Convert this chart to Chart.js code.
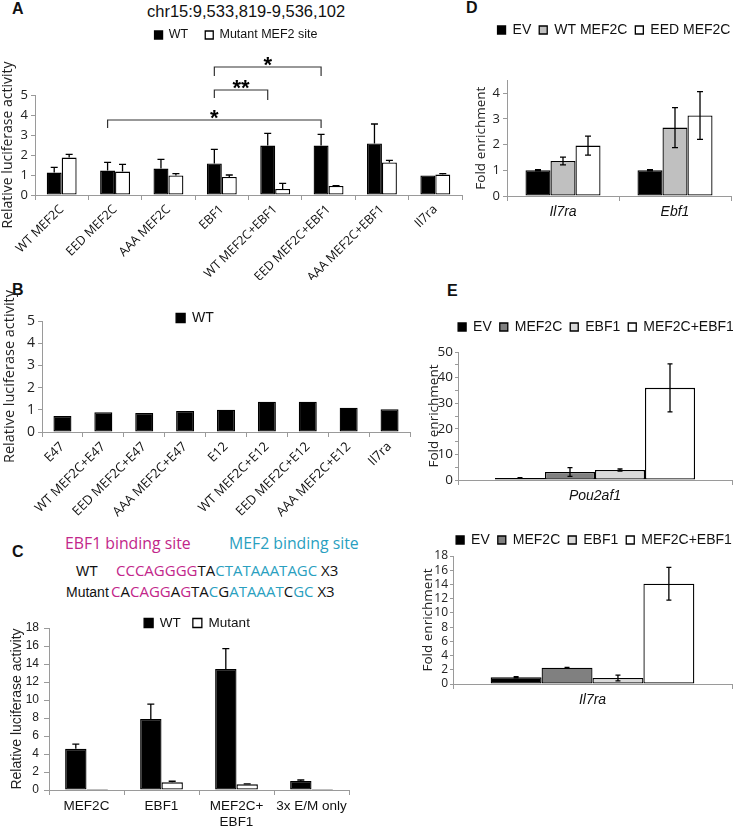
<!DOCTYPE html>
<html>
<head>
<meta charset="utf-8">
<script src="https://cdn.jsdelivr.net/npm/chart.js@4.4.1/dist/chart.umd.min.js"></script>
<style>
  body { margin: 0; background: #fff; width: 733px; height: 827px; position: relative; overflow: hidden; }
  canvas { position: absolute; }
  .txt { position: absolute; white-space: nowrap; line-height: 1; color: #111; }
  .panel { font: bold 16px 'Liberation Sans', Arial, sans-serif; }
  .arial { font-family: 'Liberation Sans', Arial, sans-serif; }
  .seq { font-family: 'Open Sans', sans-serif; font-size: 15px; }
  .m { color: #c2268a; }
  .c { color: #2a9fbf; }
</style>
</head>
<body>
<div class="txt panel" style="left:12px;top:0px">A</div>
<div class="txt panel" style="left:12px;top:281px">B</div>
<div class="txt panel" style="left:12px;top:543px">C</div>
<div class="txt panel" style="left:466px;top:-1px">D</div>
<div class="txt panel" style="left:447px;top:282px">E</div>
<div class="txt arial" style="left:147px;top:3px;font-size:16.5px">chr15:9,533,819-9,536,102</div>

<div class="txt seq m" style="left:65px;top:536px;font-size:15.8px">EBF1 binding site</div>
<div class="txt seq c" style="left:229px;top:536px;font-size:15.8px">MEF2 binding site</div>
<div class="txt arial" style="left:76px;top:564px;font-size:14px">WT</div>
<div class="txt seq" style="left:116px;top:563px"><span class="m">CCCAGGGG</span>TA<span class="c">CTATAAATAGC</span> X3</div>
<div class="txt arial" style="left:66px;top:585px;font-size:14px">Mutant</div>
<div class="txt seq" style="left:111px;top:584px"><span class="m">C</span>A<span class="m">CAGG</span>A<span class="m">G</span>TA<span class="c">C</span>G<span class="c">ATAAAT</span>C<span class="c">GC</span> X3</div>

<canvas id="chartA" width="470" height="280" style="left:0;top:0"></canvas>
<canvas id="chartB" width="420" height="280" style="left:0;top:255px"></canvas>
<canvas id="chartC" width="360" height="237" style="left:0;top:590px"></canvas>
<canvas id="chartD" width="263" height="230" style="left:470px;top:0"></canvas>
<canvas id="chartE1" width="313" height="210" style="left:420px;top:300px"></canvas>
<canvas id="chartE2" width="318" height="215" style="left:415px;top:505px"></canvas>

<script>
// ---- data ----
// A: luciferase, WT vs mutant MEF2 site
const aLabels = ['WT MEF2C', 'EED MEF2C', 'AAA MEF2C', 'EBF1', 'WT MEF2C+EBF1', 'EED MEF2C+EBF1', 'AAA MEF2C+EBF1', 'Il7ra'];
const aWT = [1.12, 1.22, 1.32, 1.58, 2.47, 2.47, 2.58, 0.98];
const aWTErr = [0.26, 0.41, 0.46, 0.70, 0.61, 0.56, 0.97, 0];
const aMut = [1.87, 1.17, 0.98, 0.90, 0.30, 0.45, 1.63, 1.02];
const aMutErr = [0.16, 0.36, 0.09, 0.10, 0.28, 0.02, 0.10, 0.05];
// significance brackets: category index of WT bars, level and drops in y units
const aBrackets = [
  { from: 1, to: 5, y: 3.75, dropL: 0.4, dropR: 0.4, text: '*' },
  { from: 3, to: 4, y: 5.25, dropL: 0.4, dropR: 0.5, text: '**' },
  { from: 3, to: 5, y: 6.4, dropL: 0.45, dropR: 0.45, text: '*' }
];

// B: E47 / E12
const bLabels = ['E47', 'WT MEF2C+E47', 'EED MEF2C+E47', 'AAA MEF2C+E47', 'E12', 'WT MEF2C+E12', 'EED MEF2C+E12', 'AAA MEF2C+E12', 'Il7ra'];
const bWT = [0.72, 0.89, 0.86, 0.95, 1.0, 1.36, 1.36, 1.09, 1.03];

// C: 3x E/M reporter
const cLabels = ['MEF2C', 'EBF1', ['MEF2C+', 'EBF1'], '3x E/M only'];
const cWT = [4.57, 7.9, 13.44, 1.0];
const cWTErr = [0.52, 1.64, 2.26, 0.11];
const cMut = [0.12, 0.85, 0.63, 0.1];
const cMutErr = [0, 0.12, 0.05, 0];

// D: ChIP
const dLabels = ['Il7ra', 'Ebf1'];
const dEV = [1.0, 1.0];
const dEVErr = [0.02, 0.02];
const dWT = [1.36, 2.66];
const dWTErr = [0.15, 0.78];
const dEED = [1.96, 3.13];
const dEEDErr = [0.37, 0.93];
const dTicks = [0, 1, 2, 3, 4];

// E: ChIP, Pou2af1 and Il7ra
const eSeries = ['EV', 'MEF2C', 'EBF1', 'MEF2C+EBF1'];
const eColors = ['#000000', '#808080', '#d9d9d9', '#ffffff'];
const ePou = [0.8, 3.1, 3.9, 36];
const ePouErr = [0.1, 1.7, 0.4, 9.4];
const eIl7 = [0.94, 2.3, 0.85, 14.1];
const eIl7Err = [0.08, 0.05, 0.4, 2.3];

// ---- helpers ----
const ARIAL = "'Liberation Sans', Arial, sans-serif";
const SANS = "'Open Sans', 'Noto Sans', sans-serif";
const GREY = '#9a9a9a';

// move the legend to a fixed spot after layout (canvas coords: x = centre, y = text middle)
const legendSpot = {
  id: 'legendSpot',
  afterLayout(chart, args, o) {
    const lg = chart.legend;
    if (!lg || o.x == null) return;
    const ih = Math.max(o.size, o.box);
    const dx = o.x - (lg.left + lg.right) / 2;
    const dy = o.y - (lg.top + o.pad + ih / 2);
    lg.left += dx; lg.right += dx;
    lg.top += dy; lg.bottom += dy;
  }
};

const errorBars = {
  id: 'errorBars',
  afterDatasetsDraw(chart, args, o) {
    const ctx = chart.ctx, y = chart.scales.y;
    chart.data.datasets.forEach((ds, di) => {
      if (!ds.err) return;
      const meta = chart.getDatasetMeta(di);
      ctx.save();
      ctx.strokeStyle = '#000';
      ctx.lineWidth = o.width || 1.3;
      const half = (o.cap || 6) / 2;
      meta.data.forEach((bar, i) => {
        const e = ds.err[i];
        if (!e) return;
        const v = ds.data[i];
        const top = y.getPixelForValue(v + e);
        const bot = ds.errBoth ? y.getPixelForValue(v - e) : bar.y;
        ctx.beginPath();
        ctx.moveTo(bar.x, top); ctx.lineTo(bar.x, bot);
        ctx.moveTo(bar.x - half, top); ctx.lineTo(bar.x + half, top);
        if (ds.errBoth) { ctx.moveTo(bar.x - half, bot); ctx.lineTo(bar.x + half, bot); }
        ctx.stroke();
      });
      ctx.restore();
    });
  }
};

const sigBrackets = {
  id: 'sigBrackets',
  afterDatasetsDraw(chart, args, o) {
    if (!o.items) return;
    const ctx = chart.ctx, y = chart.scales.y;
    const bars = chart.getDatasetMeta(0).data;
    const fs = 22;
    ctx.save();
    ctx.strokeStyle = '#333';
    ctx.lineWidth = 1.2;
    ctx.fillStyle = '#000';
    ctx.font = 'bold ' + fs + 'px ' + ARIAL;
    ctx.textAlign = 'center';
    ctx.textBaseline = 'alphabetic';
    o.items.forEach(b => {
      const x1 = bars[b.from].x, x2 = bars[b.to].x;
      const yl = y.getPixelForValue(b.y);
      ctx.beginPath();
      ctx.moveTo(x1, y.getPixelForValue(b.y - b.dropL));
      ctx.lineTo(x1, yl);
      ctx.lineTo(x2, yl);
      ctx.lineTo(x2, y.getPixelForValue(b.y - b.dropR));
      ctx.stroke();
      ctx.fillText(b.text, (x1 + x2) / 2, yl - 8 + 0.57 * fs);
    });
    ctx.restore();
  }
};

function legendAt(x, y, size, pad, box) {
  return {
    legend: { labels: { font: { family: ARIAL, size: size }, color: '#111', boxWidth: box, boxHeight: box, padding: pad } },
    legendSpot: { x: x, y: y, size: size, pad: pad, box: box },
    tooltip: { enabled: false }
  };
}

function catAxis(o) {
  return {
    border: { color: GREY },
    grid: { drawOnChartArea: false, color: GREY, tickLength: 5, offset: true },
    ticks: { autoSkip: false, minRotation: o.rot || 0, maxRotation: o.rot || 0, color: '#111', padding: o.pad || 2, font: o.font },
    afterFit(s) { s.height = o.height; }
  };
}

function valAxis(o) {
  const ax = {
    min: 0, max: o.max,
    border: { color: GREY },
    grid: { drawOnChartArea: false, color: GREY, tickLength: o.tickLen || 4 },
    ticks: { stepSize: o.step, autoSkip: false, color: '#222', padding: o.tickPad || 3, font: o.tickFont },
    title: { display: true, text: o.title, color: '#222', font: o.titleFont, padding: { top: o.titlePad, bottom: 0 } },
    afterFit(s) { s.width = o.width; }
  };
  if (o.ticks) ax.afterBuildTicks = s => { s.ticks = o.ticks.map(v => ({ value: v })); };
  if (o.labelEvery) ax.ticks.callback = v => (v % o.labelEvery === 0 ? v : '');
  return ax;
}

function bars(label, data, fill, extra) {
  return Object.assign({ label: label, data: data, backgroundColor: fill, borderColor: '#000', borderWidth: 1.3, borderSkipped: false }, extra || {});
}

const base = { responsive: false, animation: false, devicePixelRatio: 1 };

// ---- A ----
new Chart(document.getElementById('chartA'), {
  type: 'bar',
  data: { labels: aLabels, datasets: [
    bars('WT', aWT, '#000', { err: aWTErr }),
    bars('Mutant MEF2 site', aMut, '#fff', { err: aMutErr })
  ] },
  options: Object.assign({}, base, {
    layout: { padding: { top: 55.5, left: 0, right: 8, bottom: 0 } },
    datasets: { bar: { categoryPercentage: 0.56, barPercentage: 1 } },
    scales: {
      x: catAxis({ rot: 45, height: 85, font: { family: SANS, size: 12.5 } }),
      y: valAxis({ max: 5, step: 1, width: 35, title: 'Relative luciferase activity', titlePad: 0,
        tickFont: { family: SANS, size: 13 }, titleFont: { family: SANS, size: 14 } })
    },
    plugins: Object.assign(legendAt(236, 35, 12.5, 17, 8), { errorBars: { cap: 7 }, sigBrackets: { items: aBrackets } })
  }),
  plugins: [legendSpot, errorBars, sigBrackets]
});

// ---- B ----
new Chart(document.getElementById('chartB'), {
  type: 'bar',
  data: { labels: bLabels, datasets: [ bars('WT', bWT, '#000') ] },
  options: Object.assign({}, base, {
    layout: { padding: { top: 32, left: 0, right: 10, bottom: 0 } },
    datasets: { bar: { categoryPercentage: 0.44, barPercentage: 1 } },
    scales: {
      x: catAxis({ rot: 45, height: 103, font: { family: SANS, size: 13 } }),
      y: valAxis({ max: 5, step: 1, width: 42, title: 'Relative luciferase activity', titlePad: 1,
        tickFont: { family: SANS, size: 14 }, titleFont: { family: SANS, size: 14.5 } })
    },
    plugins: legendAt(195, 63, 14, 10, 9)
  }),
  plugins: [legendSpot]
});

// ---- C ----
new Chart(document.getElementById('chartC'), {
  type: 'bar',
  data: { labels: cLabels, datasets: [
    bars('WT', cWT, '#000', { err: cWTErr }),
    bars('Mutant', cMut, '#fff', { err: cMutErr })
  ] },
  options: Object.assign({}, base, {
    layout: { padding: { top: 2.5, left: 0, right: 11, bottom: 0 } },
    datasets: { bar: { categoryPercentage: 0.57, barPercentage: 1 } },
    scales: {
      x: catAxis({ height: 37, pad: 3, font: { family: ARIAL, size: 13.5 } }),
      y: valAxis({ max: 18, step: 2, width: 49, tickLen: 5, tickPad: 5, title: 'Relative luciferase activity', titlePad: 9,
        tickFont: { family: ARIAL, size: 12 }, titleFont: { family: ARIAL, size: 14 } })
    },
    plugins: Object.assign(legendAt(197, 33, 13.5, 12, 9), { errorBars: { cap: 7 } })
  }),
  plugins: [legendSpot, errorBars]
});

// ---- D ----
new Chart(document.getElementById('chartD'), {
  type: 'bar',
  data: { labels: dLabels, datasets: [
    bars('EV', dEV, '#000', { err: dEVErr, errBoth: true }),
    bars('WT MEF2C', dWT, '#c0c0c0', { err: dWTErr, errBoth: true }),
    bars('EED MEF2C', dEED, '#fff', { err: dEEDErr, errBoth: true })
  ] },
  options: Object.assign({}, base, {
    layout: { padding: { top: 48.3, left: 0, right: 2, bottom: 0 } },
    datasets: { bar: { categoryPercentage: 0.67, barPercentage: 1 } },
    scales: {
      x: catAxis({ height: 34, pad: 3, font: { family: ARIAL, size: 14, style: 'italic' } }),
      y: valAxis({ max: 4.5, ticks: dTicks, width: 37, title: 'Fold enrichment', titlePad: 3,
        tickFont: { family: SANS, size: 13 }, titleFont: { family: SANS, size: 13.5 } })
    },
    plugins: Object.assign(legendAt(144, 30, 14, 8, 8), { errorBars: { cap: 6 } })
  }),
  plugins: [legendSpot, errorBars]
});

// ---- E ----
function eChart(id, label, vals, errs, max, step, every, tickSize, pad, lx, ly, titlePad, xh) {
  return new Chart(document.getElementById(id), {
    type: 'bar',
    data: { labels: [label], datasets: eSeries.map((s, i) =>
      bars(s, [vals[i]], eColors[i], { err: [errs[i]], errBoth: true })) },
    options: Object.assign({}, base, {
      layout: { padding: { top: pad, left: 0, right: 1, bottom: 0 } },
      datasets: { bar: { categoryPercentage: 0.73, barPercentage: 1 } },
      scales: {
        x: catAxis({ height: xh, pad: 3, font: { family: ARIAL, size: 14, style: 'italic' } }),
        y: valAxis({ max: max, step: step, labelEvery: every, width: 38, tickLen: 3, tickPad: 2, title: 'Fold enrichment', titlePad: titlePad,
          tickFont: { family: SANS, size: tickSize }, titleFont: { family: SANS, size: 13.5 } })
      },
      plugins: Object.assign(legendAt(lx, ly, 14, 8, 8), { errorBars: { cap: 5 } })
    }),
    plugins: [legendSpot, errorBars]
  });
}
eChart('chartE1', 'Pou2af1', ePou, ePouErr, 50, 5, 10, 13.5, 20, 176, 27, 6, 30);
eChart('chartE2', 'Il7ra', eIl7, eIl7Err, 18, 2, 2, 12, 19, 179, 35, 5, 36);
</script>
</body>
</html>
